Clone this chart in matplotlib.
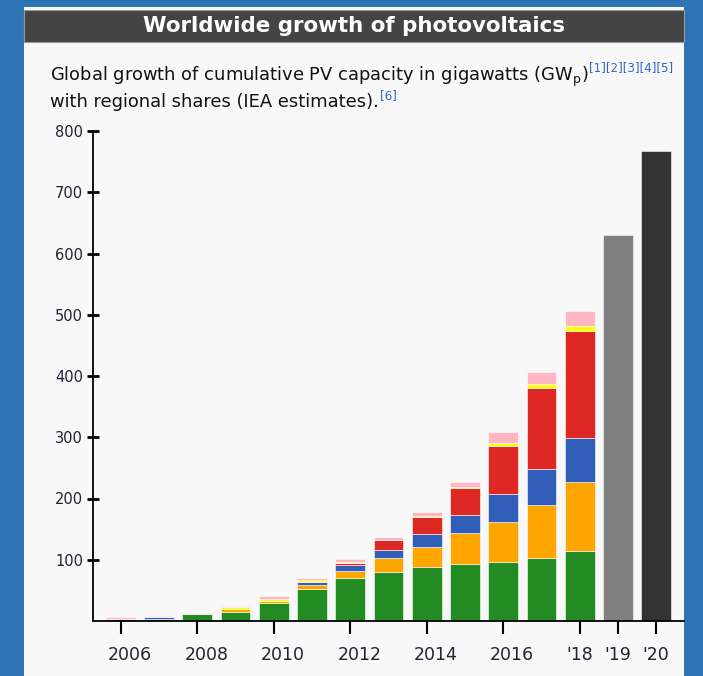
import matplotlib
matplotlib.use("Agg")
import matplotlib.pyplot as plt
import matplotlib.transforms as mtransforms
import numpy as np
from matplotlib.patches import Rectangle

# cumulative PV capacity (GWp), stacked by regional share, 2006-2018
years = [2006, 2007, 2008, 2009, 2010, 2011, 2012, 2013, 2014, 2015, 2016, 2017, 2018]
europe = [0, 3.3, 10.9, 15.2, 28.8, 51.6, 69.6, 80, 87.5, 93, 95.7, 103, 114]
asia_pacific = [0, 0, 0, 3.8, 3.8, 7.4, 12.4, 23, 33.5, 51, 66.3, 87, 113]
americas = [3.8, 3.4, 0, 0, 0, 4.6, 9.4, 13, 21, 29, 46, 58, 72]
china = [0, 0, 0, 0, 0, 0, 2.6, 15.6, 28, 44, 78, 133, 175]
middle_east = [0, 0, 0, 3.8, 3.8, 2.7, 2.6, 1.4, 2, 2, 4, 5.6, 7]
rest_of_world = [2.2, 1.8, 1.6, 1.7, 4.9, 3.7, 4, 4, 6, 8, 19, 20, 25]

# totals only for the latest years
late_years = [2019, 2020]
late_totals = [631, 768]

tick_pos = [2006, 2008, 2010, 2012, 2014, 2016, 2018, 2019, 2020]
tick_labels = ["2006", "2008", "2010", "2012", "2014", "2016", "'18", "'19", "'20"]

W, H = 703, 676
fig = plt.figure(figsize=(W / 100, H / 100), dpi=100)
fig.patch.set_facecolor("#2E74B5")

# white panel and dark title bar (behind the axes)
fig.add_artist(Rectangle((24 / W, 0), 660 / W, 1 - 7 / H, transform=fig.transFigure,
                         facecolor="#F8F8F8", edgecolor="none", zorder=-10))
fig.add_artist(Rectangle((24 / W, 1 - 42 / H), 660 / W, 32 / H, transform=fig.transFigure,
                         facecolor="#444444", edgecolor="#999999", lw=0.8, zorder=-9))
fig.text(354 / W, 1 - 26 / H, "Worldwide growth of photovoltaics", color="white",
         fontsize=15.4, fontweight="bold", ha="center", va="center")

# subtitle with sub/superscripts
renderer = fig.canvas.get_renderer()
t1 = fig.text(50 / W, 1 - 81 / H, r"Global growth of cumulative PV capacity in gigawatts (GW$_\mathregular{p}$)",
              fontsize=12.9, color="#111111", va="baseline")
bb = t1.get_window_extent(renderer)
fig.text(bb.x1 / W + 1 / W, 1 - 71 / H, "[1][2][3][4][5]", fontsize=8.6, color="#3366CC", va="baseline")
t2 = fig.text(50 / W, 1 - 107 / H, "with regional shares (IEA estimates).", fontsize=12.9,
              color="#111111", va="baseline")
bb = t2.get_window_extent(renderer)
fig.text(bb.x1 / W + 1 / W, 1 - 99 / H, "[6]", fontsize=8.6, color="#3366CC", va="baseline")

ax = fig.add_axes([93 / W, 1 - 621 / H, (684 - 93) / W, (621 - 131) / H])
ax.set_facecolor("#F8F8F8")

series = [
    (europe, "#228B22"),
    (asia_pacific, "#FFA500"),
    (americas, "#2F5DB7"),
    (china, "#DE2823"),
    (middle_east, "#FFFF00"),
    (rest_of_world, "#FFB6C1"),
]
width = 0.78
bottom = np.zeros(len(years))
for vals, color in series:
    ax.bar(years, vals, width, bottom=bottom, color=color, edgecolor="white", linewidth=0.4)
    bottom += np.array(vals)

ax.bar(late_years, late_totals, width, color=["#808080", "#333333"], edgecolor="white", linewidth=0.4)

ax.set_xlim(2005.27, 2020.73)
ax.set_ylim(0, 800)
ax.set_yticks(range(100, 801, 100))
ax.set_xticks(tick_pos)
ax.set_xticklabels(tick_labels)
for s in ["top", "right"]:
    ax.spines[s].set_visible(False)
for s in ["left", "bottom"]:
    ax.spines[s].set_linewidth(1.3)
ax.tick_params(axis="y", direction="inout", length=9, width=2, labelsize=10.5,
               labelcolor="#222233", pad=2.5)
ax.tick_params(axis="x", direction="out", length=9, width=1.5, labelsize=12.5,
               labelcolor="#222233", pad=9)

# full-year labels sit a little right of their ticks in the original
shift = mtransforms.ScaledTranslation(9 / 100, 0, fig.dpi_scale_trans)
for lab in ax.get_xticklabels():
    if not lab.get_text().startswith("'"):
        lab.set_transform(lab.get_transform() + shift)

fig.savefig("out.png", dpi=100, facecolor=fig.get_facecolor())
